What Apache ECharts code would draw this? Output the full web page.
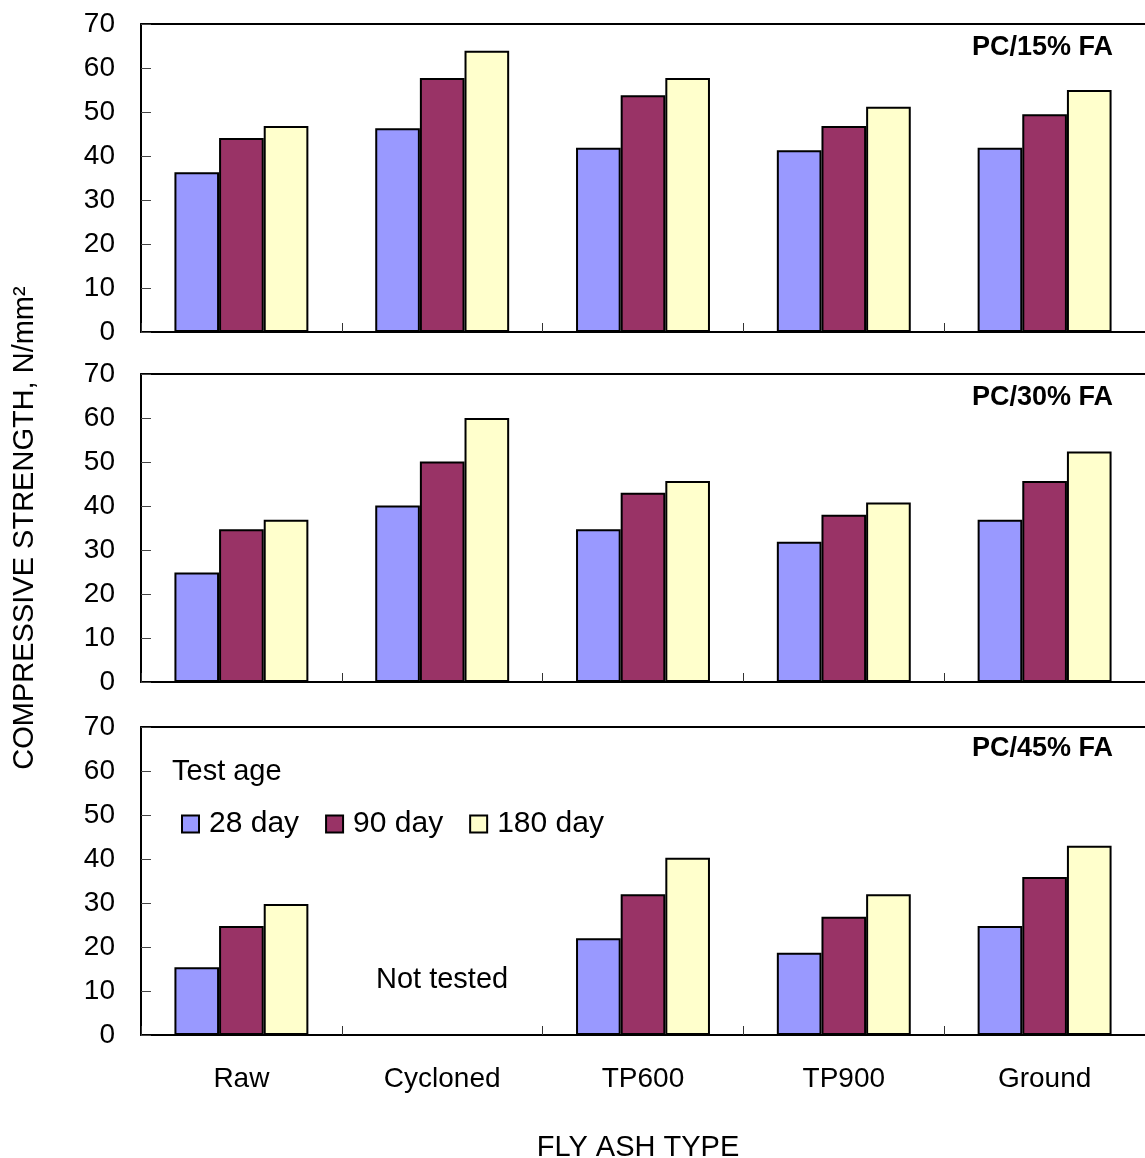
<!DOCTYPE html>
<html>
<head>
<meta charset="utf-8">
<script src="https://cdn.jsdelivr.net/npm/echarts@6/dist/echarts.min.js"></script>
<style>
  html, body { margin: 0; padding: 0; background: #fff; }
  #chart { width: 1145px; height: 1158px; }
</style>
</head>
<body>
<div id="chart"></div>
<script>
// Fly ash types along the x axis
const flyAshTypes = ['Raw', 'Cycloned', 'TP600', 'TP900', 'Ground'];
const testAges = ['28 day', '90 day', '180 day'];
const yTicks = { min: 0, max: 70, interval: 10 };

// Compressive strength (N/mm²) for PC with 15% fly ash
const pc15_28 = [36.3, 46.3, 41.9, 41.3, 41.9];
const pc15_90 = [44.1, 57.7, 53.8, 46.8, 49.5];
const pc15_180 = [46.8, 63.9, 57.7, 51.2, 55.0];

// PC with 30% fly ash
const pc30_28 = [24.9, 40.1, 34.7, 31.9, 36.9];
const pc30_90 = [34.7, 50.1, 43.0, 38.0, 45.7];
const pc30_180 = [36.9, 60.0, 45.7, 40.8, 52.4];

// PC with 45% fly ash (cycloned ash not tested)
const pc45_28 = [15.4, null, 22.0, 18.7, 24.8];
const pc45_90 = [24.8, null, 32.0, 26.9, 35.9];
const pc45_180 = [29.8, null, 40.3, 32.0, 43.0];

const panelLabels = ['PC/15% FA', 'PC/30% FA', 'PC/45% FA'];
const panelData = [
  [pc15_28, pc15_90, pc15_180],
  [pc30_28, pc30_90, pc30_180],
  [pc45_28, pc45_90, pc45_180]
];

const FONT = "'Liberation Sans', Arial, Helvetica, sans-serif";
const ageColors = ['#9999FF', '#993366', '#FFFFCC'];
const panelTops = [24, 374, 727];
const panelHeight = 308;
const plotLeft = 141;
const plotWidth = 1004;

const grids = [];
const xAxes = [];
const yAxes = [];
const series = [];

panelTops.forEach((top, i) => {
  grids.push({ left: plotLeft, top: top, width: plotWidth, height: panelHeight, containLabel: false });
  // bottom category axis
  xAxes.push({
    type: 'category',
    gridIndex: i,
    data: flyAshTypes,
    position: 'bottom',
    axisLine: { show: true, lineStyle: { color: '#000', width: 2 } },
    axisTick: { show: true, inside: true, length: 9, lineStyle: { color: '#333', width: 1 } },
    axisLabel: {
      show: i === 2,
      color: '#000',
      fontFamily: FONT,
      fontSize: 28,
      margin: 30
    },
    splitLine: { show: false }
  });
  // top frame line of each panel
  xAxes.push({
    type: 'category',
    gridIndex: i,
    data: flyAshTypes,
    position: 'top',
    axisLine: { show: true, lineStyle: { color: '#000', width: 2 } },
    axisTick: { show: false },
    axisLabel: { show: false },
    splitLine: { show: false }
  });
  yAxes.push({
    type: 'value',
    gridIndex: i,
    min: yTicks.min,
    max: yTicks.max,
    interval: yTicks.interval,
    axisLine: { show: true, lineStyle: { color: '#000', width: 2 } },
    axisTick: { show: true, inside: true, length: 10, lineStyle: { color: '#444', width: 1 } },
    axisLabel: { color: '#000', fontFamily: FONT, fontSize: 28, margin: 26 },
    splitLine: { show: false }
  });
  panelData[i].forEach((values, k) => {
    series.push({
      name: testAges[k],
      type: 'bar',
      xAxisIndex: i * 2,
      yAxisIndex: i,
      data: values,
      barGap: '0%',
      barCategoryGap: '33.3%',
      itemStyle: { color: ageColors[k], borderColor: '#000', borderWidth: 2 },
      emphasis: { disabled: true }
    });
  });
});

const graphics = [
  {
    type: 'text',
    x: 25, y: 528,
    rotation: Math.PI / 2,
    style: {
      text: 'COMPRESSIVE STRENGTH, N/mm²',
      fill: '#000', font: '29px ' + FONT,
      textAlign: 'center', textVerticalAlign: 'middle'
    }
  },
  {
    type: 'text',
    x: 638, y: 1148,
    style: {
      text: 'FLY ASH TYPE',
      fill: '#000', font: '29px ' + FONT,
      textAlign: 'center', textVerticalAlign: 'middle'
    }
  },
  {
    type: 'text',
    x: 172, y: 772,
    style: {
      text: 'Test age',
      fill: '#000', font: '29px ' + FONT,
      textAlign: 'left', textVerticalAlign: 'middle'
    }
  },
  {
    type: 'text',
    x: 376, y: 980,
    style: {
      text: 'Not tested',
      fill: '#000', font: '29px ' + FONT,
      textAlign: 'left', textVerticalAlign: 'middle'
    }
  }
];
const labelYs = [48, 398, 749];
panelLabels.forEach((t, i) => {
  graphics.push({
    type: 'text',
    x: 1113, y: labelYs[i],
    style: {
      text: t,
      fill: '#000', font: 'bold 27px ' + FONT,
      textAlign: 'right', textVerticalAlign: 'middle'
    }
  });
});

const chart = echarts.init(document.getElementById('chart'), null, { renderer: 'canvas' });
chart.setOption({
  backgroundColor: '#fff',
  animation: false,
  legend: {
    data: testAges,
    left: 181,
    top: 809,
    orient: 'horizontal',
    icon: 'rect',
    itemWidth: 17,
    itemHeight: 17,
    itemGap: 26,
    padding: 0,
    textStyle: { color: '#000', fontFamily: FONT, fontSize: 30, padding: [0, 0, 0, 5] },
    selectedMode: false
  },
  grid: grids,
  xAxis: xAxes,
  yAxis: yAxes,
  series: series,
  graphic: graphics
});
</script>
</body>
</html>
